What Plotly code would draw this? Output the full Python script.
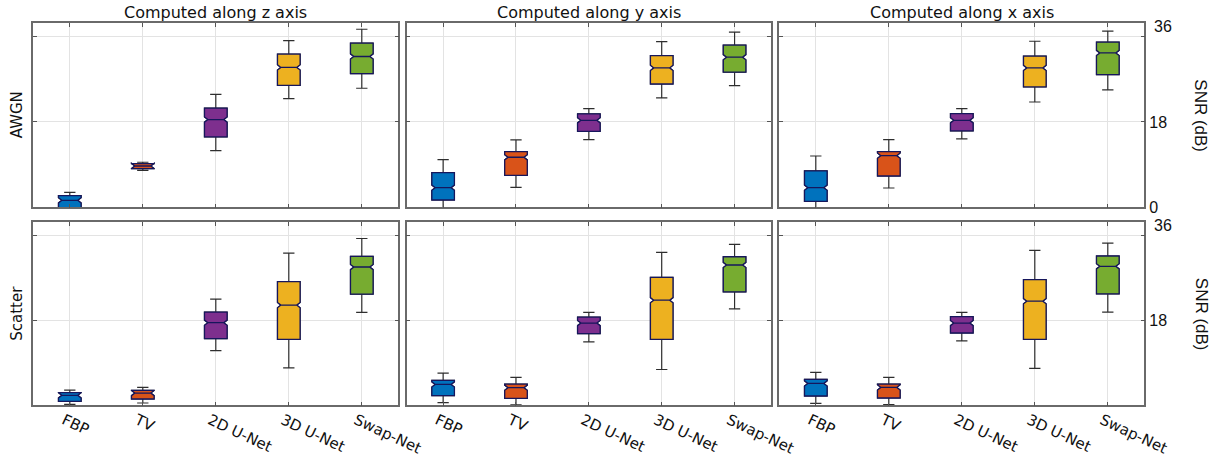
import plotly.graph_objects as go

W, H = 1217, 459

CATEGORIES = ["FBP", "TV", "2D U-Net", "3D U-Net", "Swap-Net"]
COLORS = ["#0072BD", "#D95319", "#7E2F8E", "#EDB120", "#77AC30"]
COL_TITLES = ["Computed along z axis", "Computed along y axis", "Computed along x axis"]
ROW_TITLES = ["AWGN", "Scatter"]
Y_TICKS = [0, 18, 36]
Y_TICKTEXT_TOP = ["0", "18", ""]
Y_TICKTEXT_BOTTOM = ["", "18", ""]
TOP_LABEL = "36"
NOTCH = 0.55  # half-span of notch (dB)

# ---- AWGN, computed along z ----
awgn_z_lo = [-1.5, 7.8, 11.95, 22.9, 25.1]
awgn_z_q1 = [-0.3, 8.14, 14.83, 25.7, 28.2]
awgn_z_med = [1.47, 8.71, 18.5, 29.5, 31.8]
awgn_z_q3 = [2.45, 9.2, 20.9, 32.3, 34.6]
awgn_z_hi = [3.16, 9.5, 23.8, 35.15, 37.55]

# ---- AWGN, computed along y ----
awgn_y_lo = [-0.3, 4.22, 14.26, 23.06, 25.65]
awgn_y_q1 = [1.54, 6.75, 16.03, 26.0, 28.5]
awgn_y_med = [4.14, 10.55, 18.35, 29.4, 31.65]
awgn_y_q3 = [7.3, 11.73, 19.68, 32.0, 34.2]
awgn_y_hi = [10.04, 14.2, 20.8, 34.94, 36.92]

# ---- AWGN, computed along x ----
awgn_x_lo = [-0.3, 4.07, 14.41, 22.2, 24.75]
awgn_x_q1 = [1.27, 6.6, 16.1, 25.38, 27.97]
awgn_x_med = [4.14, 10.89, 18.35, 29.39, 32.55]
awgn_x_q3 = [7.66, 11.73, 19.75, 31.86, 34.81]
awgn_x_hi = [10.82, 14.26, 20.8, 35.02, 37.13]

# ---- Scatter, computed along z ----
scat_z_lo = [0.21, 0.49, 11.6, 7.95, 19.69]
scat_z_q1 = [0.84, 1.34, 14.14, 13.99, 23.56]
scat_z_med = [2.11, 2.6, 17.51, 21.24, 29.32]
scat_z_q3 = [2.67, 3.16, 19.76, 26.23, 31.58]
scat_z_hi = [3.23, 3.8, 22.5, 32.28, 35.37]

# ---- Scatter, computed along y ----
scat_y_lo = [0.56, 0.07, 13.43, 7.59, 20.46]
scat_y_q1 = [2.04, 1.48, 15.19, 13.99, 24.05]
scat_y_med = [4.43, 3.73, 17.44, 22.29, 29.75]
scat_y_q3 = [5.27, 4.5, 18.71, 27.14, 31.5]
scat_y_hi = [6.82, 5.91, 19.69, 32.42, 34.11]

# ---- Scatter, computed along x ----
scat_x_lo = [0.42, 0.14, 13.64, 7.81, 19.76]
scat_x_q1 = [1.97, 1.55, 15.33, 13.99, 23.63]
scat_x_med = [4.64, 3.8, 17.44, 22.08, 29.47]
scat_x_q3 = [5.49, 4.5, 18.78, 26.65, 31.65]
scat_x_hi = [6.96, 5.91, 19.69, 32.84, 34.39]

PANELS = [
    [(awgn_z_lo, awgn_z_q1, awgn_z_med, awgn_z_q3, awgn_z_hi),
     (awgn_y_lo, awgn_y_q1, awgn_y_med, awgn_y_q3, awgn_y_hi),
     (awgn_x_lo, awgn_x_q1, awgn_x_med, awgn_x_q3, awgn_x_hi)],
    [(scat_z_lo, scat_z_q1, scat_z_med, scat_z_q3, scat_z_hi),
     (scat_y_lo, scat_y_q1, scat_y_med, scat_y_q3, scat_y_hi),
     (scat_x_lo, scat_x_q1, scat_x_med, scat_x_q3, scat_x_hi)],
]

# pixel layout
X_PIX = [(33.3, 398.3), (406.7, 771.0), (779.3, 1144.3)]
Y_PIX = [(23.3, 207.3), (222.3, 405.3)]


def xdom(c):
    a, b = X_PIX[c]
    return [a / W, b / W]


def ydom(r):
    a, b = Y_PIX[r]
    return [1 - b / H, 1 - a / H]


fig = go.Figure()
layout = {}
BOX_W = 0.31
TEXT_FONT = "DejaVu Sans"
NUM_FONT = "Liberation Sans"
annotations = []

for r in range(2):
    for c in range(3):
        idx = r * 3 + c + 1
        xa = "x" if idx == 1 else f"x{idx}"
        ya = "y" if idx == 1 else f"y{idx}"
        lo, q1, med, q3, hi = PANELS[r][c]
        for i, cat in enumerate(CATEGORIES):
            # whiskers (dark) drawn by a full box
            fig.add_trace(go.Box(
                x=[cat], q1=[q1[i]], median=[med[i]], q3=[q3[i]],
                lowerfence=[lo[i]], upperfence=[hi[i]],
                notched=True, notchspan=[NOTCH], notchwidth=0.15,
                width=BOX_W, whiskerwidth=0.5,
                line=dict(color="#2e2e2e", width=1.2),
                fillcolor=COLORS[i], boxpoints=False,
                showlegend=False, hoverinfo="skip",
                xaxis=xa, yaxis=ya,
            ))
            # box body with navy outline
            fig.add_trace(go.Box(
                x=[cat], q1=[q1[i]], median=[med[i]], q3=[q3[i]],
                lowerfence=[q1[i]], upperfence=[q3[i]],
                notched=True, notchspan=[NOTCH], notchwidth=0.15,
                width=BOX_W, whiskerwidth=0,
                line=dict(color="#16165c", width=1.3),
                fillcolor=COLORS[i], boxpoints=False,
                showlegend=False, hoverinfo="skip",
                xaxis=xa, yaxis=ya,
            ))
        xkey = "xaxis" if idx == 1 else f"xaxis{idx}"
        ykey = "yaxis" if idx == 1 else f"yaxis{idx}"
        layout[xkey] = dict(
            domain=xdom(c), anchor=ya, type="category",
            categoryorder="array", categoryarray=CATEGORIES,
            range=[-0.5, 4.5], automargin=False,
            showgrid=True, gridcolor="#e3e3e3", gridwidth=1,
            showline=True, linecolor="#6a6a6a", linewidth=1.5, mirror="allticks",
            ticks="inside", ticklen=4, tickcolor="#555555",
            showticklabels=(r == 1), tickangle=25, ticklabelshift=-6,
            ticklabelstandoff=-1,
            tickfont=dict(family=TEXT_FONT, size=15, color="#111111"),
            zeroline=False, fixedrange=True,
        )
        layout[ykey] = dict(
            domain=ydom(r), anchor=xa, range=[0, 38.8], automargin=False,
            tickvals=Y_TICKS,
            ticktext=Y_TICKTEXT_TOP if r == 0 else Y_TICKTEXT_BOTTOM,
            showgrid=True, gridcolor="#e3e3e3", gridwidth=1,
            showline=True, linecolor="#6a6a6a", linewidth=1.5, mirror="allticks",
            ticks="inside", ticklen=4, tickcolor="#555555",
            side="right", showticklabels=(c == 2),
            tickfont=dict(family=NUM_FONT, size=16, color="#111111"),
            zeroline=False, fixedrange=True,
        )
        if c == 2:
            annotations.append(dict(
                text=TOP_LABEL, x=(X_PIX[2][1] + 8) / W, xref="paper",
                y=Y_TICKS[-1], yref=ya, yshift=10,
                xanchor="left", yanchor="middle", showarrow=False,
                font=dict(family=NUM_FONT, size=16, color="#111111"),
            ))

for c, t in enumerate(COL_TITLES):
    a, b = X_PIX[c]
    annotations.append(dict(
        text=t, x=(a + b) / 2 / W, y=1 - 12 / H, xref="paper", yref="paper",
        xanchor="center", yanchor="middle", showarrow=False,
        font=dict(family=TEXT_FONT, size=16, color="#111111"),
    ))
for r, t in enumerate(ROW_TITLES):
    a, b = Y_PIX[r]
    annotations.append(dict(
        text=t, x=17 / W, y=1 - (a + b) / 2 / H, xref="paper", yref="paper",
        xanchor="center", yanchor="middle", showarrow=False, textangle=-90,
        font=dict(family=TEXT_FONT, size=15, color="#111111"),
    ))
    annotations.append(dict(
        text="SNR (dB)", x=1201 / W, y=1 - (a + b) / 2 / H, xref="paper", yref="paper",
        xanchor="center", yanchor="middle", showarrow=False, textangle=90,
        font=dict(family=NUM_FONT, size=17, color="#111111"),
    ))

fig.update_layout(
    width=W, height=H,
    margin=dict(l=0, r=0, t=0, b=0, autoexpand=False),
    paper_bgcolor="white", plot_bgcolor="white",
    boxmode="overlay", showlegend=False,
    annotations=annotations,
    **layout,
)

fig.write_html(
    "out.html",
    config={"displayModeBar": False},
    post_script="document.body.style.margin='0';document.body.style.overflow='hidden';",
)
